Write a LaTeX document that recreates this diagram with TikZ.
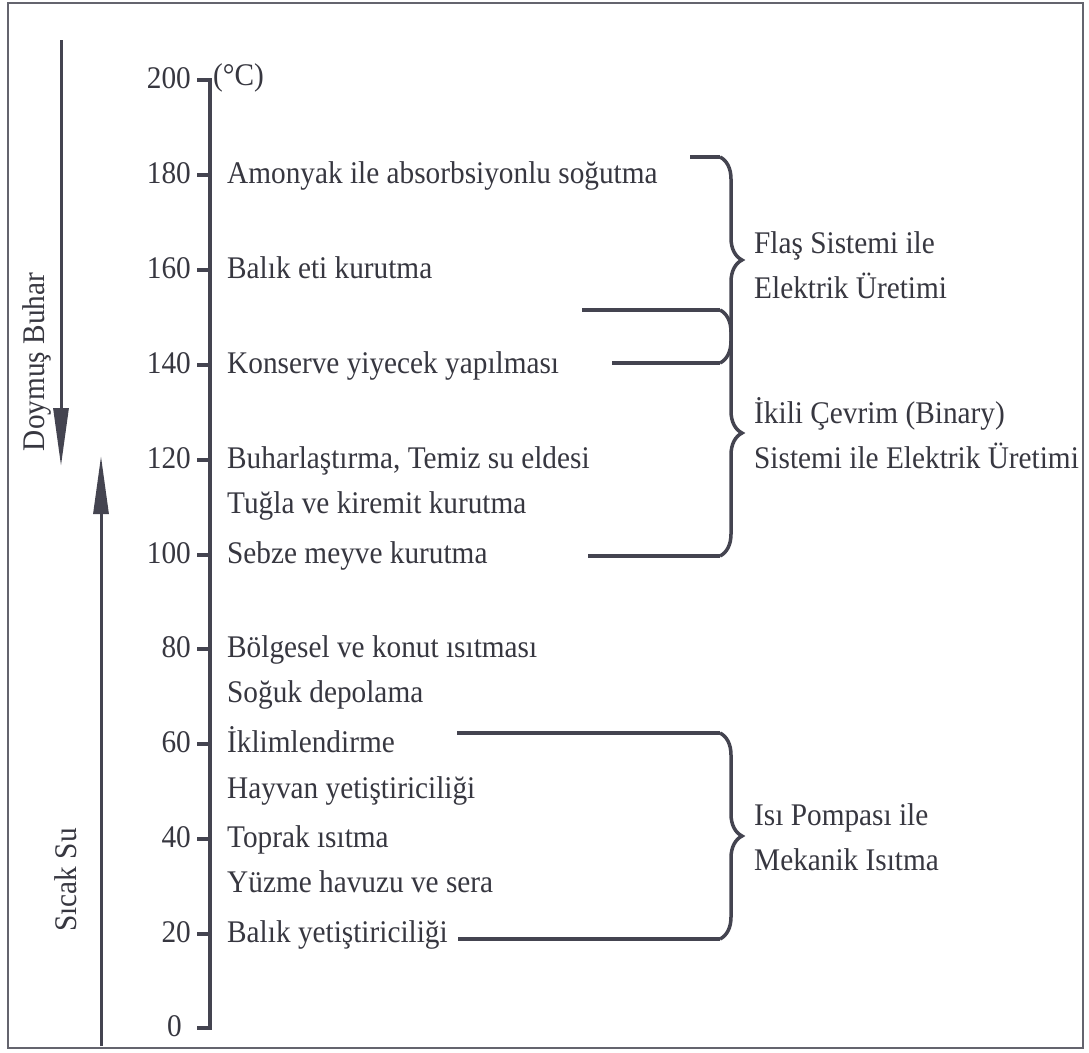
\documentclass[tikz,border=0pt]{standalone}
\usepackage{fontspec}
\setmainfont{Liberation Serif}[FakeStretch=0.93]
\usetikzlibrary{arrows.meta,decorations.pathreplacing}
\definecolor{ink}{RGB}{55,55,64}
\definecolor{linec}{RGB}{68,68,80}
\definecolor{framec}{RGB}{100,100,110}
\begin{document}
\begin{tikzpicture}[x=1pt,y=-1pt,
  font=\fontsize{31.5}{38}\selectfont,
  every node/.style={text=ink, inner sep=0pt},
  lbl/.style={anchor=west, text height=21pt, text depth=0pt},
  num/.style={anchor=east, text height=21pt, text depth=0pt},
  ax/.style={line width=4pt, draw=linec},
  hl/.style={line width=3.5pt, draw=linec},
  brc/.style={line width=3.5pt, draw=linec, decorate, decoration={brace, amplitude=22pt}},
  arr/.style={line width=3pt, draw=linec, -{Triangle[length=58pt,width=15pt]}}]
\fill[white] (0,0) rectangle (1089,1052);
\useasboundingbox (0,0) rectangle (1089,1052);
\draw[line width=2.5pt, draw=framec] (8,3) rectangle (1083,1048);

% axis
\coordinate (a200) at (210,80);
\coordinate (a0) at (210,1028);
\draw[ax, line join=miter] (197,80) -- (a200) -- (a0) -- (197,1028);
\foreach \y in {175,270,365,460,555,649,744,839,934}
  \draw[ax] (197,\y) -- (210,\y);

% numbers
\node[num] (n200) at (191,78) {200};
\node[lbl] (unit) at (213,75) {(°C)};
\node[num] (n180) at (191,173) {180};
\node[num] (n160) at (191,268) {160};
\node[num] (n140) at (191,363) {140};
\node[num] (n120) at (191,458) {120};
\node[num] (n100) at (191,553) {100};
\node[num] (n80) at (191,647) {80};
\node[num] (n60) at (191,742) {60};
\node[num] (n40) at (191,837) {40};
\node[num] (n20) at (191,932) {20};
\node[num] (n0) at (182,1026) {0};

% labels
\node[lbl] (l180) at (227,173) {Amonyak ile absorbsiyonlu soğutma};
\node[lbl] (l160) at (227,268) {Balık eti kurutma};
\node[lbl] (l140) at (227,363) {Konserve yiyecek yapılması};
\node[lbl] (l120a) at (227,458) {Buharlaştırma, Temiz su eldesi};
\node[lbl] (l120b) at (227,503) {Tuğla ve kiremit kurutma};
\node[lbl] (l100) at (227,553) {Sebze meyve kurutma};
\node[lbl] (l80a) at (227,647) {Bölgesel ve konut ısıtması};
\node[lbl] (l80b) at (227,692) {Soğuk depolama};
\node[lbl] (l60a) at (227,742) {İklimlendirme};
\node[lbl] (l60b) at (227,788) {Hayvan yetiştiriciliği};
\node[lbl] (l40a) at (227,837) {Toprak ısıtma};
\node[lbl] (l40b) at (227,882) {Yüzme havuzu ve sera};
\node[lbl] (l20) at (227,932) {Balık yetiştiriciliği};

% left arrows
\coordinate (dtop) at (61,40);
\coordinate (dbot) at (61,466);
\draw[arr] (dtop) -- (dbot);
\coordinate (ubot) at (101,1046);
\coordinate (utop) at (101,456);
\draw[arr] (ubot) -- (utop);
\node[rotate=90] (doy) at (37,362) {Doymuş Buhar};
\node[rotate=90] (sic) at (66,880) {Sıcak Su};

% flash brace
\coordinate (fa) at (690,157);
\coordinate (ft) at (720,157);
\coordinate (fb) at (720,363);
\coordinate (fc) at (612,363);
\draw[hl] (fa) -- (ft);
\draw[hl] (fc) -- (fb);
\draw[brc] (ft) -- (fb);
% binary brace
\coordinate (ba) at (582,310);
\coordinate (bt) at (720,310);
\coordinate (bb) at (720,556);
\coordinate (bc) at (588,556);
\draw[hl] (ba) -- (bt);
\draw[hl] (bc) -- (bb);
\draw[brc] (bt) -- (bb);
% heat pump brace
\coordinate (ha) at (457,733);
\coordinate (ht) at (720,733);
\coordinate (hb) at (720,939);
\coordinate (hc) at (458,939);
\draw[hl] (ha) -- (ht);
\draw[hl] (hc) -- (hb);
\draw[brc] (ht) -- (hb);

% brace labels
\node[lbl] (f1) at (754,243) {Flaş Sistemi ile};
\node[lbl] (f2) at (754,288) {Elektrik Üretimi};
\node[lbl] (b1) at (754,413) {İkili Çevrim (Binary)};
\node[lbl] (b2) at (754,458) {Sistemi ile Elektrik Üretimi};
\node[lbl] (h1) at (754,815) {Isı Pompası ile};
\node[lbl] (h2) at (754,860) {Mekanik Isıtma};
\end{tikzpicture}
\end{document}
